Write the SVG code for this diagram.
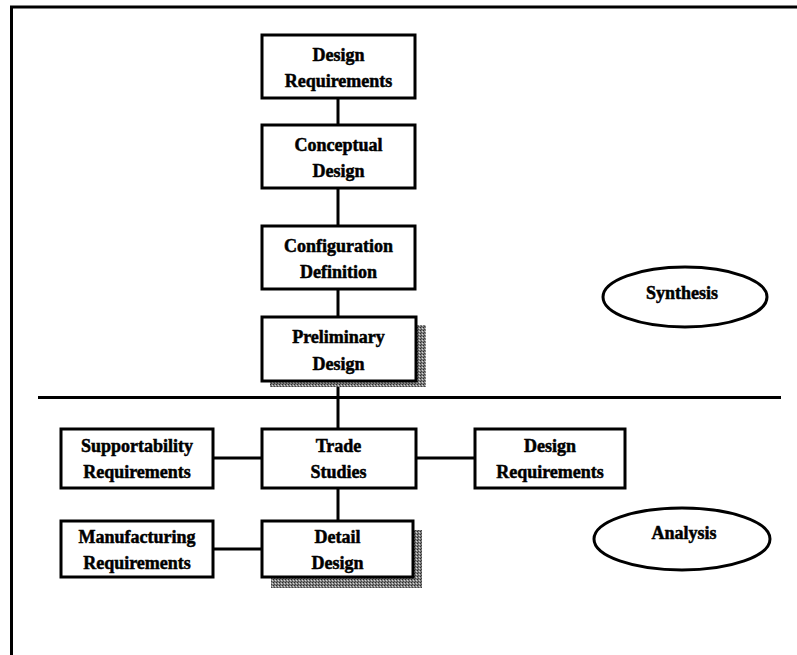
<svg xmlns="http://www.w3.org/2000/svg" width="797" height="655" viewBox="0 0 797 655">
  <defs>
    <!-- stippled grey used for drop shadows -->
    <pattern id="stipple" width="3" height="3" patternUnits="userSpaceOnUse">
      <rect width="3" height="3" fill="#808080"/>
      <rect x="0" y="0" width="1" height="1" fill="#2a2a2a"/>
      <rect x="2" y="1" width="1" height="1" fill="#d8d8d8"/>
      <rect x="1" y="2" width="1" height="1" fill="#444444"/>
    </pattern>
  </defs>
  <style>
    .box { fill: #ffffff; stroke: #000000; stroke-width: 3; }
    .oval { fill: #ffffff; stroke: #000000; stroke-width: 3; }
    .shadow { fill: url(#stipple); }
    .wire { stroke: #000000; stroke-width: 3; fill: none; }
    .lbl { font-family: "Liberation Serif", "Times New Roman", serif; font-weight: bold; font-size: 18px; fill: #000000; stroke: #000000; stroke-width: 0.5; text-anchor: middle; }
  </style>
  <rect width="797" height="655" fill="#ffffff"/>

  <!-- outer frame: top and left edges -->
  <g id="frame">
    <line class="wire" x1="10" y1="7" x2="797" y2="7"/>
    <line class="wire" x1="11.5" y1="6" x2="11.5" y2="655"/>
  </g>

  <!-- divider between synthesis and analysis -->
  <line id="divider" class="wire" x1="38" y1="397.5" x2="781" y2="397.5"/>

  <g id="connectors">
    <line class="wire" x1="338" y1="98" x2="338" y2="125"/>
    <line class="wire" x1="338" y1="188" x2="338" y2="226"/>
    <line class="wire" x1="338" y1="289" x2="338" y2="317"/>
    <line class="wire" x1="338" y1="381" x2="338" y2="429"/>
    <line class="wire" x1="338" y1="488" x2="338" y2="521"/>
    <line class="wire" x1="213" y1="458" x2="262" y2="458"/>
    <line class="wire" x1="416" y1="458" x2="475" y2="458"/>
    <line class="wire" x1="213" y1="549" x2="262" y2="549"/>
  </g>

  <g id="design-requirements-top">
    <rect class="box" x="262" y="35" width="153" height="63"/>
    <text class="lbl" x="338.5" y="61">Design</text>
    <text class="lbl" x="338.5" y="87">Requirements</text>
  </g>

  <g id="conceptual-design">
    <rect class="box" x="262" y="125" width="153" height="63"/>
    <text class="lbl" x="338.5" y="151">Conceptual</text>
    <text class="lbl" x="338.5" y="177">Design</text>
  </g>

  <g id="configuration-definition">
    <rect class="box" x="262" y="226" width="153" height="63"/>
    <text class="lbl" x="338.5" y="252">Configuration</text>
    <text class="lbl" x="338.5" y="278">Definition</text>
  </g>

  <g id="preliminary-design">
    <rect class="shadow" x="270" y="325" width="156" height="62"/>
    <rect class="box" x="262" y="317" width="154" height="64"/>
    <text class="lbl" x="338.5" y="343">Preliminary</text>
    <text class="lbl" x="338.5" y="370">Design</text>
  </g>

  <g id="synthesis">
    <ellipse class="oval" cx="685" cy="297" rx="82" ry="30"/>
    <text class="lbl" x="682" y="299">Synthesis</text>
  </g>

  <g id="supportability-requirements">
    <rect class="box" x="61" y="429" width="152" height="59"/>
    <text class="lbl" x="137" y="452">Supportability</text>
    <text class="lbl" x="137" y="478">Requirements</text>
  </g>

  <g id="trade-studies">
    <rect class="box" x="262" y="429" width="154" height="59"/>
    <text class="lbl" x="338.5" y="452">Trade</text>
    <text class="lbl" x="338.5" y="478">Studies</text>
  </g>

  <g id="design-requirements-right">
    <rect class="box" x="475" y="429" width="150" height="59"/>
    <text class="lbl" x="550" y="452">Design</text>
    <text class="lbl" x="550" y="478">Requirements</text>
  </g>

  <g id="manufacturing-requirements">
    <rect class="box" x="61" y="521" width="152" height="56"/>
    <text class="lbl" x="137" y="543">Manufacturing</text>
    <text class="lbl" x="137" y="569">Requirements</text>
  </g>

  <g id="detail-design">
    <rect class="shadow" x="271" y="530" width="151" height="58"/>
    <rect class="box" x="262" y="521" width="151" height="56"/>
    <text class="lbl" x="337.5" y="543">Detail</text>
    <text class="lbl" x="337.5" y="569">Design</text>
  </g>

  <g id="analysis">
    <ellipse class="oval" cx="682" cy="539" rx="88" ry="31"/>
    <text class="lbl" x="684" y="539">Analysis</text>
  </g>
</svg>
